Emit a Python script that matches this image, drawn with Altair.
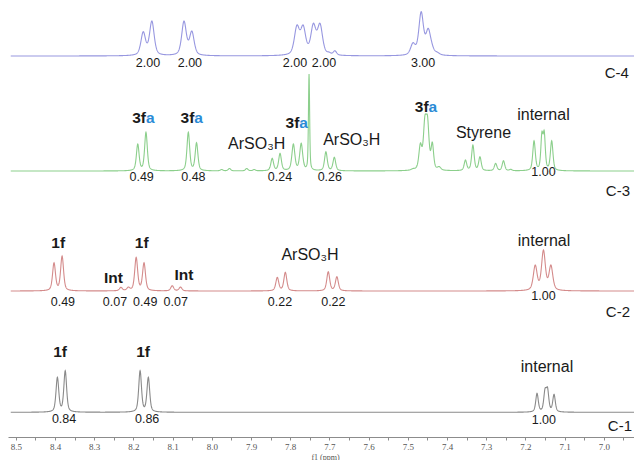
import numpy as np
import pandas as pd
import altair as alt

# ---------------- peak lists (ppm, height, linewidth ppm) ----------------
c4_ppm = [8.175, 8.153, 8.071, 8.051, 7.783, 7.767, 7.741, 7.724, 7.701, 7.686,
          7.496, 7.487, 7.466, 7.448, 7.439, 7.425]
c4_height = [24.3, 35.0, 35.0, 25.0, 31.0, 31.0, 32.7, 32.7, 4.0, 5.3,
             4.0, 13.0, 44.3, 27.7, 14.0, 4.0]
c4_width = [0.014, 0.014, 0.014, 0.014, 0.0153, 0.0153, 0.0153, 0.0153, 0.010, 0.010,
            0.012, 0.014, 0.014, 0.014, 0.014, 0.014]

c3_ppm = [8.189, 8.168, 8.060, 8.039, 7.975, 7.955, 7.911, 7.892, 7.846, 7.826,
          7.792, 7.772, 7.752, 7.709, 7.6875, 7.487, 7.468, 7.4566, 7.4497, 7.4375,
          7.420, 7.353, 7.334, 7.316, 7.276, 7.256, 7.2375, 7.178, 7.158, 7.152, 7.133]
c3_height = [27.0, 38.7, 38.7, 28.3, 1.5, 2.5, 2.5, 1.5, 12.7, 17.7,
             27.0, 27.7, 97.0, 19.3, 13.7, 2.5, 28.0, 55.0, 55.0, 29.0,
             4.5, 11.0, 26.0, 14.3, 7.7, 10.3, 1.7, 30.3, 39.3, 40.3, 30.3]
c3_width = [0.0082, 0.0082, 0.0082, 0.0082, 0.0077, 0.0077, 0.0077, 0.0077, 0.0082, 0.0082,
            0.009, 0.009, 0.0036, 0.0082, 0.0082, 0.010, 0.009, 0.009, 0.009, 0.0077,
            0.010, 0.0077, 0.0077, 0.0077, 0.0077, 0.0077, 0.0077, 0.0077, 0.0064, 0.0064, 0.0077]

c2_ppm = [8.4026, 8.382, 8.232, 8.213, 8.193, 8.173, 8.101, 8.080,
          7.833, 7.8125, 7.703, 7.681, 7.175, 7.154, 7.135]
c2_height = [28.3, 35.0, 3.7, 4.0, 33.7, 28.3, 5.3, 4.0,
             13.7, 18.7, 19.3, 14.3, 26.0, 41.0, 26.0]
c2_width = [0.0089] * 12 + [0.0115, 0.0115, 0.0115]

c1_ppm = [8.394, 8.374, 8.183, 8.162, 7.1704, 7.150, 7.1436, 7.127]
c1_height = [35.0, 41.6, 41.6, 35.0, 19.0, 24.0, 25.0, 18.0]
c1_width = [0.0084] * 4 + [0.0077] * 4

spectra = ["C-4", "C-3", "C-2", "C-1"]
peak_lists = {
    "C-4": (c4_ppm, c4_height, c4_width),
    "C-3": (c3_ppm, c3_height, c3_width),
    "C-2": (c2_ppm, c2_height, c2_width),
    "C-1": (c1_ppm, c1_height, c1_width),
}
# vertical stacking offsets of the traces (layout)
stack_offset = {"C-4": 381.0, "C-3": 266.0, "C-2": 146.0, "C-1": 24.7}
colors = ["#9797e0", "#8ccf8c", "#d48b8b", "#8a8a8a"]

# ---------------- annotation texts ----------------
integ_text = ["2.00", "2.00", "2.00", "2.00", "3.00",
              "0.49", "0.48", "0.24", "0.26", "1.00",
              "0.49", "0.07", "0.49", "0.07", "0.22", "0.22", "1.00",
              "0.84", "0.86", "1.00"]
integ_ppm = [8.163, 8.056, 7.788, 7.714, 7.461,
             8.179, 8.047, 7.826, 7.699, 7.154,
             8.380, 8.247, 8.170, 8.092, 7.826, 7.690, 7.154,
             8.377, 8.165, 7.153]
integ_v = [374, 374, 374, 374, 374,
           259.7, 259.7, 259.7, 259.7, 265.3,
           135, 135, 135, 135, 135, 135, 141,
           17.7, 17.7, 17]

name_ppm = [6.967, 6.964, 6.964, 6.959]
name_v = [363.7, 246, 125.3, 11]

note_text = ["ArSO\u2083H", "ArSO\u2083H", "Styrene", "internal", "ArSO\u2083H", "internal", "internal"]
note_ppm = [7.8855, 7.643, 7.307, 7.154, 7.7495, 7.1525, 7.145]
note_v = [293, 297, 303.7, 322, 182, 196.3, 70]

bold_text = ["1f", "1f", "Int", "Int", "1f", "1f"]
bold_ppm = [8.392, 8.179, 8.251, 8.071, 8.387, 8.1755]
bold_v = [194, 194, 159, 162, 85, 85]

fa_ppm = [8.1747, 8.0513, 7.7834, 7.4536]
fa_v = [319.3, 319.3, 314.3, 330.3]

tick_values = [round(6.9 + 0.05 * i, 2) for i in range(33)]

# ---------------- build traces (pseudo-Voigt line shape) ----------------
def shape(x, c, w, eta=0.5):
    d = (x - c) / (w / 2.0)
    return eta / (1.0 + d * d) + (1.0 - eta) * np.exp(-np.log(2.0) * d * d)

grid = np.arange(8.513, 6.899, -0.0005)
frames = []
for name in spectra:
    c, h, w = (np.array(a, dtype=float) for a in peak_lists[name])
    A = shape(c[:, None], c[None, :], w[None, :])
    amp = np.clip(np.linalg.solve(A, h), 0, None)
    y = stack_offset[name] + (amp[None, :] * shape(grid[:, None], c[None, :], w[None, :])).sum(axis=1)
    frames.append(pd.DataFrame({"ppm": grid, "v": y, "spectrum": name}))
lines_df = pd.concat(frames, ignore_index=True)

# plot runs past the right edge of the page, as in the reference
xs = alt.Scale(domain=[8.52, 6.9026], range=[0, 634], nice=False, zero=False)
ys = alt.Scale(domain=[0, 429], nice=False, zero=False)

label_expr = "abs(datum.value*10 - round(datum.value*10)) < 0.001 ? format(datum.value, '.1f') : ''"
x_axis = alt.Axis(
    values=tick_values, labelExpr=label_expr, title="f1 (ppm)", grid=False,
    domainColor="#8c8c8c", tickColor="#8c8c8c", tickSize=3, tickWidth=1,
    labelFont="Liberation Serif", labelFontSize=9, labelColor="#555555",
    labelPadding=2, labelFlush=False, labelOverlap=False,
    titleFont="Liberation Serif", titleFontSize=8, titleFontWeight="normal",
    titleColor="#555555", titlePadding=2, titleX=317)

lines = alt.Chart(lines_df).mark_line(strokeWidth=1.1, clip=True).encode(
    x=alt.X("ppm:Q", scale=xs, axis=x_axis),
    y=alt.Y("v:Q", scale=ys, axis=None),
    color=alt.Color("spectrum:N", scale=alt.Scale(domain=spectra, range=colors), legend=None),
    detail="spectrum:N",
)

def text_layer(df, size, weight="normal", color="#1a1a1a", align="center", dx=0):
    return alt.Chart(df).mark_text(
        font="Liberation Sans", fontSize=size, fontWeight=weight, color=color,
        align=align, baseline="middle", dx=dx
    ).encode(
        x=alt.X("ppm:Q", scale=xs, axis=x_axis),
        y=alt.Y("v:Q", scale=ys, axis=None),
        text="label:N",
    )

integ_df = pd.DataFrame({"label": integ_text, "ppm": integ_ppm, "v": integ_v})
name_df = pd.DataFrame({"label": spectra, "ppm": name_ppm, "v": name_v})
note_df = pd.DataFrame({"label": note_text, "ppm": note_ppm, "v": note_v})
bold_df = pd.DataFrame({"label": bold_text, "ppm": bold_ppm, "v": bold_v})
f3_df = pd.DataFrame({"label": ["3f"] * 4, "ppm": fa_ppm, "v": fa_v})
a_df = pd.DataFrame({"label": ["a"] * 4, "ppm": fa_ppm, "v": fa_v})

chart = alt.layer(
    lines,
    text_layer(integ_df, 12.5),
    text_layer(name_df, 15),
    text_layer(note_df, 16),
    text_layer(bold_df, 15.5, weight="bold"),
    text_layer(f3_df, 15.5, weight="bold", align="right", dx=2.6),
    text_layer(a_df, 15.5, weight="bold", color="#2b8bd6", align="left", dx=2.6),
).properties(
    width=626, height=429,
    autosize=alt.AutoSizeParams(type="none"),
    padding={"left": 0, "top": 0, "right": 0, "bottom": 24},
    background="white",
).configure_view(stroke=None)

chart.save("out.html", embed_options={"renderer": "svg", "actions": False})
